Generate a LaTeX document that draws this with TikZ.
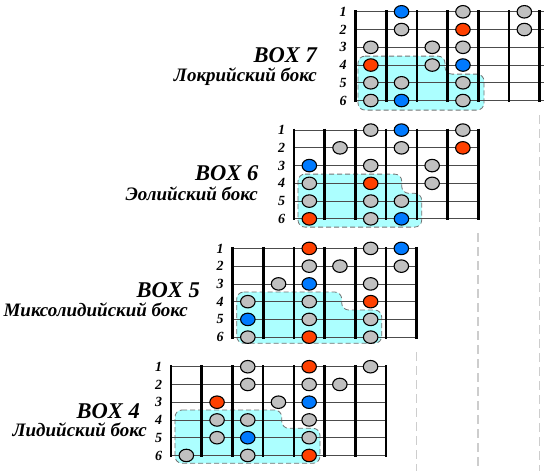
\documentclass[tikz,border=0pt]{standalone}
\usepackage{fontspec}
\setmainfont{Liberation Serif}
\usetikzlibrary{shapes.geometric}
\definecolor{notegray}{RGB}{192,192,192}
\definecolor{notered}{RGB}{255,64,0}
\definecolor{noteblue}{RGB}{0,122,255}
\definecolor{boxcyan}{RGB}{172,255,255}
\definecolor{guide}{RGB}{205,205,205}
\tikzset{
 note/.style={ellipse, draw=black, line width=1.1pt, minimum width=14.5pt, minimum height=12.5pt, inner sep=0pt},
 gnote/.style={note, fill=notegray},
 rnote/.style={note, fill=notered},
 bnote/.style={note, fill=noteblue},
 fretline/.style={line width=2.6pt, draw=black},
 stringline/.style={line width=0.8pt, draw=black!70},
 region/.style={fill=boxcyan, draw=black!55, dash pattern=on 5pt off 3pt, line width=0.8pt, rounded corners=7pt},
 guideline/.style={draw=guide, line width=1.5pt, dash pattern=on 9pt off 5pt},
 strnum/.style={font=\fontsize{14}{14}\selectfont\bfseries\itshape, anchor=center, inner sep=0pt},
 boxtitle/.style={font=\fontsize{22.5}{22.5}\selectfont\bfseries\itshape, anchor=base east, inner sep=0pt},
 boxname/.style={font=\fontsize{19}{19}\selectfont\bfseries\itshape, anchor=base east, inner sep=0pt},
}
\newcommand\fretgrid[4]{% #1 name, #2 columns, #3 string end, #4 notes
  \foreach \s in {1,...,6} \draw[stringline] (0,{(\s-1)*17.75}) -- (#3,{(\s-1)*17.75});
  \foreach \f in {0,...,#2} \draw[fretline] ({\f*30.7},-1.5) -- ({\f*30.7},90.25);
  \foreach \s in {1,...,6} \node[strnum] (#1num\s) at (-12.5,{(\s-1)*17.75}) {\s};
  \foreach \s/\c/\t in {#4} \node[\t note] (#1n\s c\c) at ({(\c-0.5)*30.7},{(\s-1)*17.75}) {};
}
\begin{document}
\begin{tikzpicture}[x=1pt,y=-1pt]
\useasboundingbox (0,0) rectangle (544,471);
\fill[white] (0,0) rectangle (544,471);
% guide lines
\draw[guideline] (416.7,352) -- (416.7,471);
\draw[guideline] (478.2,233) -- (478.2,471);
\draw[guideline] (539.7,115) -- (539.7,471);
% BOX 7
\begin{scope}[shift={(355.5,11.8)}]
\path[region] (2.5,44.3) -- (89.5,44.3) -- (89.5,62.3) -- (128.5,62.3) -- (128.5,98.3) -- (2.5,98.3) -- cycle;
\fretgrid{bsev}{6}{190}{1/2/b,1/4/g,1/6/g,2/2/g,2/4/r,2/6/g,3/1/g,3/3/g,3/4/g,4/1/r,4/3/g,4/4/b,5/1/g,5/2/g,5/4/g,6/1/g,6/2/b,6/4/g}
\end{scope}
\node[boxtitle] (t7) at (317,62.7) {BOX 7};
\node[boxname] (s7) at (317,81.7) {Локрийский бокс};
% BOX 6
\begin{scope}[shift={(294,130.1)}]
\path[region] (4,44) -- (107.7,44) -- (107.7,63.2) -- (127.7,63.2) -- (127.7,97) -- (4,97) -- cycle;
\fretgrid{bsix}{6}{184.2}{1/3/g,1/4/b,1/6/g,2/2/g,2/4/g,2/6/r,3/1/b,3/3/g,3/5/g,4/1/g,4/3/r,4/5/g,5/1/g,5/3/g,5/4/g,6/1/r,6/3/g,6/4/b}
\end{scope}
\node[boxtitle] (t6) at (258.5,180) {BOX 6};
\node[boxname] (s6) at (258,200) {Эолийский бокс};
% BOX 5
\begin{scope}[shift={(232.5,248.4)}]
\path[region] (4.2,43.6) -- (109.2,43.6) -- (109.2,61.6) -- (149.2,61.6) -- (149.2,94.9) -- (4.2,94.9) -- cycle;
\fretgrid{bfive}{6}{184.2}{1/3/r,1/5/g,1/6/b,2/3/g,2/4/g,2/6/g,3/2/g,3/3/b,3/5/g,4/1/g,4/3/g,4/5/r,5/1/b,5/3/g,5/5/g,6/1/g,6/3/r,6/5/g}
\end{scope}
\node[boxtitle] (t5) at (200,297) {BOX 5};
\node[boxname] (s5) at (188,316.5) {Миксолидийский бокс};
% BOX 4
\begin{scope}[shift={(171,366.7)}]
\path[region] (4,43.3) -- (110.7,43.3) -- (110.7,61.6) -- (149,61.6) -- (149,96.6) -- (4,96.6) -- cycle;
\fretgrid{bfour}{7}{214.9}{1/3/g,1/5/r,1/7/g,2/3/g,2/5/g,2/6/g,3/2/r,3/4/g,3/5/b,4/2/g,4/3/g,4/5/g,5/2/g,5/3/b,5/5/g,6/1/g,6/3/g,6/5/r}
\end{scope}
\node[boxtitle] (t4) at (140,418.3) {BOX 4};
\node[boxname] (s4) at (147,436.7) {Лидийский бокс};
\end{tikzpicture}
\end{document}
